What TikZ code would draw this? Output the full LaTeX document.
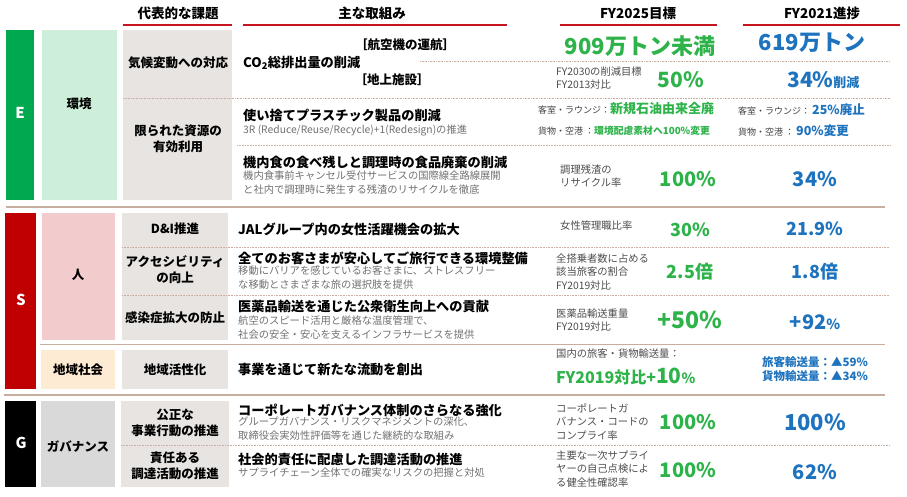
\documentclass[tikz,border=0pt]{standalone}
\usepackage{fontspec}
\setmainfont{Noto Sans CJK JP}
\definecolor{eg}{HTML}{00A850}
\definecolor{egl}{HTML}{CDEFD9}
\definecolor{sr}{HTML}{C00000}
\definecolor{srl}{HTML}{F2CBCD}
\definecolor{spe}{HTML}{FDEBD3}
\definecolor{gg}{HTML}{D9D9D9}
\definecolor{ib}{HTML}{E8E4E1}
\definecolor{tg}{HTML}{2DB34A}
\definecolor{tb}{HTML}{1E73BE}
\definecolor{sep}{HTML}{C9AD9F}
\definecolor{hr}{HTML}{C8141E}
\definecolor{gt}{HTML}{707070}
\tikzset{
 hd/.style={font=\bfseries\fontsize{13.5}{14}\selectfont,inner sep=0},
 is/.style={font=\bfseries\fontsize{12.5}{16}\selectfont,align=center,inner sep=0},
 mt/.style={font=\bfseries\fontsize{13.2}{15}\selectfont,anchor=west,inner sep=0},
 sub/.style={font=\fontsize{10.3}{13.8}\selectfont,text=gt,anchor=north west,align=left,inner sep=0},
 ind/.style={font=\fontsize{10.3}{13.8}\selectfont,text=black!70,anchor=west,align=left,inner sep=0},
 tgn/.style={font=\bfseries\fontsize{#1}{#1}\selectfont,text=tg,inner sep=0},
 tbn/.style={font=\bfseries\fontsize{#1}{#1}\selectfont,text=tb,inner sep=0},
 dl/.style={sep,densely dotted,line width=0.6pt},
 sl/.style={sep,line width=1.2pt}
}
\begin{document}
\begin{tikzpicture}[x=1pt,y=-1pt]
\useasboundingbox (0,0) rectangle (907,497);
% headers
\node[hd] (h1) at (178,13) {代表的な課題};
\node[hd] (h2) at (372,13) {主な取組み};
\node[hd] (h3) at (638,13) {FY2025目標};
\node[hd] (h4) at (822,13) {FY2021進捗};
\draw[hr,line width=1.2pt] (123,25)--(232,25) (243,25)--(507,25) (560,25)--(717,25) (743,25)--(900,25);
% E
\fill[eg] (6,30) rectangle (34,200);
\fill[egl] (42,30) rectangle (117,200);
\fill[ib] (123,30) rectangle (232,200);
\node[font=\bfseries\fontsize{15}{15}\selectfont,text=white] (E) at (20,113) {E};
\node[is] (env) at (79,104) {環境};
\draw[dl] (420,61)--(890,61);
\draw[dl] (123,98)--(890,98);
\draw[dl] (237,145)--(890,145);
\node[is] (i1) at (178,63) {気候変動への対応};
\node[mt] (m1) at (243,63) {CO\textsubscript{2}総排出量の削減};
\node[font=\bfseries\fontsize{12.5}{12.5}\selectfont,inner sep=0] (m1a) at (405,45) {［航空機の運航］};
\node[font=\bfseries\fontsize{12.5}{12.5}\selectfont,inner sep=0] (m1b) at (392,80) {［地上施設］};
\node[tgn=22] (t1) at (640,46) {909万トン未満};
\node[tbn=22] (p1) at (812,43) {619万トン};
\node[ind] (k1) at (556,78) {FY2030の削減目標\\FY2013対比};
\node[tgn=21] (t2) at (681,80) {50\%};
\node[tbn=21,anchor=base west] (p2) at (787,88) {34\%\fontsize{13}{13}\selectfont 削減};
\node[is] (i2) at (178,139) {限られた資源の\\有効利用};
\node[mt] (m2) at (243,115) {使い捨てプラスチック製品の削減};
\node[sub] (m2s) at (243,125) {3R (Reduce/Reuse/Recycle)+1(Redesign)の推進};
\node[anchor=west,inner sep=0] (t3) at (538,109) {\fontsize{9}{9}\selectfont\color{black!75}客室・ラウンジ：\fontsize{13}{13}\selectfont\bfseries\color{tg}新規石油由来全廃};
\node[anchor=west,inner sep=0] (t4) at (538,131) {\fontsize{9}{9}\selectfont\color{black!75}貨物・空港 ：\fontsize{9.8}{9.8}\selectfont\bfseries\color{tg}環境配慮素材へ100\%変更};
\node[anchor=west,inner sep=0] (p3) at (738,110) {\fontsize{9}{9}\selectfont\color{black!75}客室・ラウンジ： \fontsize{12.5}{12.5}\selectfont\bfseries\color{tb}25\%廃止};
\node[anchor=west,inner sep=0] (p4) at (738,131) {\fontsize{9}{9}\selectfont\color{black!75}貨物・空港 ： \fontsize{12.5}{12.5}\selectfont\bfseries\color{tb}90\%変更};
\node[mt] (m3) at (243,162) {機内食の食べ残しと調理時の食品廃棄の削減};
\node[sub] (m3s) at (243,171) {機内食事前キャンセル受付サービスの国際線全路線展開\\と社内で調理時に発生する残渣のリサイクルを徹底};
\node[ind] (k3) at (560,176) {調理残渣の\\リサイクル率};
\node[tgn=20] (t5) at (688,179) {100\%};
\node[tbn=20] (p5) at (815,179) {34\%};
\draw[sl] (6,207)--(885,207);
% S
\fill[sr] (5,213) rectangle (36,389);
\fill[srl] (42,213) rectangle (115,340);
\fill[spe] (41,350) rectangle (115,389);
\fill[ib] (122,213) rectangle (228,340);
\fill[ib] (122,350) rectangle (228,389);
\node[font=\bfseries\fontsize{15}{15}\selectfont,text=white] (S) at (21,300) {S};
\node[is] (hum) at (78,275) {人};
\node[is] (loc) at (78,370) {地域社会};
\draw[dl] (122,247)--(890,247);
\draw[dl] (122,295)--(890,295);
\draw[sep,line width=0.8pt] (40,344)--(885,344);
\node[is] (i4) at (175,229) {D\&I推進};
\node[mt] (m4) at (238,229) {JALグループ内の女性活躍機会の拡大};
\node[ind] (k4) at (560,226) {女性管理職比率};
\node[tgn=18] (t6) at (690,230) {30\%};
\node[tbn=18] (p6) at (815,229) {21.9\%};
\node[is] (i5) at (175,270) {アクセシビリティ\\の向上};
\node[mt] (m5) at (238,258) {全てのお客さまが安心してご旅行できる環境整備};
\node[sub] (m5s) at (238,266) {移動にバリアを感じているお客さまに、ストレスフリー\\な移動とさまざまな旅の選択肢を提供};
\node[ind] (k5) at (556,272) {全搭乗者数に占める\\該当旅客の割合\\FY2019対比};
\node[tgn=18] (t7) at (690,272) {2.5倍};
\node[tbn=18] (p7) at (815,272) {1.8倍};
\node[is] (i6) at (175,318) {感染症拡大の防止};
\node[mt] (m6) at (238,307) {医薬品輸送を通じた公衆衛生向上への貢献};
\node[sub] (m6s) at (238,316) {航空のスピード活用と厳格な温度管理で、\\社会の安全・安心を支えるインフラサービスを提供};
\node[ind] (k6) at (556,320) {医薬品輸送重量\\FY2019対比};
\node[tgn=23] (t8) at (690,320) {+50\%};
\node[tbn=20] (p8) at (815,322) {+92\fontsize{14}{14}\selectfont\%};
\node[is] (i7) at (175,370) {地域活性化};
\node[mt] (m7) at (238,370) {事業を通じて新たな流動を創出};
\node[ind] (k7) at (556,354) {国内の旅客・貨物輸送量：};
\node[tgn=16,anchor=base west] (t9) at (556,383) {FY2019対比+\fontsize{21}{21}\selectfont 10\fontsize{14}{14}\selectfont\%};
\node[tbn=11,align=center,font=\bfseries\fontsize{11.5}{14}\selectfont] (p9) at (815,369) {旅客輸送量：▲59\%\\貨物輸送量：▲34\%};
\draw[sl] (4,395)--(885,395);
% G
\fill[black] (5,401) rectangle (36,487);
\fill[gg] (41,401) rectangle (115,487);
\fill[ib] (121,401) rectangle (229,487);
\node[font=\bfseries\fontsize{15}{15}\selectfont,text=white] (G) at (21,443) {G};
\node[is] (gov) at (78,447) {ガバナンス};
\draw[dl] (121,445)--(890,445);
\node[is] (i8) at (175,423) {公正な\\事業行動の推進};
\node[mt] (m8) at (238,410) {コーポレートガバナンス体制のさらなる強化};
\node[sub] (m8s) at (238,417) {グループガバナンス・リスクマネジメントの深化、\\取締役会実効性評価等を通じた継続的な取組み};
\node[ind] (k8) at (556,422) {コーポレートガ\\バナンス・コードの\\コンプライ率};
\node[tgn=20] (t10) at (688,422) {100\%};
\node[tbn=22] (p10) at (815,422) {100\%};
\node[is] (i9) at (175,466) {責任ある\\調達活動の推進};
\node[mt] (m9) at (238,460) {社会的責任に配慮した調達活動の推進};
\node[sub] (m9s) at (238,468) {サプライチェーン全体での確実なリスクの把握と対処};
\node[ind] (k9) at (556,469) {主要な一次サプライ\\ヤーの自己点検によ\\る健全性確認率};
\node[tgn=20] (t11) at (688,470) {100\%};
\node[tbn=20] (p11) at (815,472) {62\%};
\end{tikzpicture}
\end{document}
